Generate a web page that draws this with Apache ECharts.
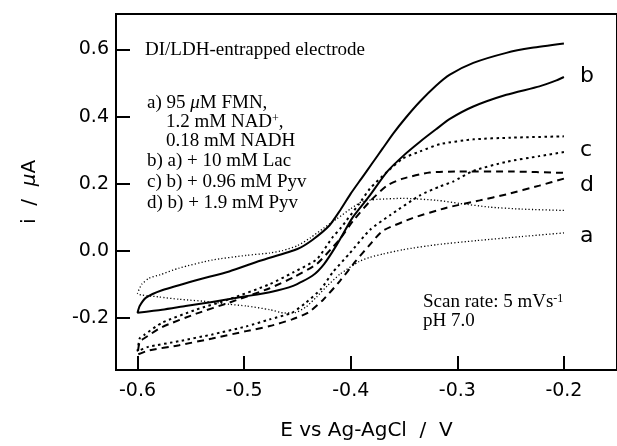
<!DOCTYPE html>
<html><head><meta charset="utf-8">
<script src="https://cdn.jsdelivr.net/npm/echarts@6/dist/echarts.min.js"></script>
<style>html,body{margin:0;padding:0;background:#fff}#c{width:617px;height:446px}</style>
</head><body><div id="c"></div>
<script>
const xTicks = [-0.6, -0.5, -0.4, -0.3, -0.2];
const yTicks = [-0.2, 0.0, 0.2, 0.4, 0.6];

// a) FMN + NAD+/NADH : anodic sweep (-0.6 -> -0.2) and cathodic sweep (-0.2 -> -0.6)
const aForward = [
  [-0.600,-0.128],[-0.596,-0.100],[-0.589,-0.082],[-0.579,-0.072],[-0.561,-0.052],[-0.530,-0.028],
  [-0.498,-0.014],[-0.476,-0.007],[-0.464,0.000],[-0.450,0.015],[-0.438,0.038],[-0.425,0.068],
  [-0.413,0.095],[-0.400,0.125],[-0.389,0.147],[-0.375,0.153],[-0.351,0.156],[-0.319,0.150],
  [-0.298,0.141],[-0.270,0.130],[-0.240,0.124],[-0.200,0.120]
];
const aReverse = [
  [-0.200,0.053],[-0.240,0.042],[-0.282,0.030],[-0.319,0.018],[-0.351,0.003],[-0.370,-0.010],
  [-0.382,-0.020],[-0.392,-0.032],[-0.410,-0.070],[-0.422,-0.105],[-0.432,-0.138],[-0.442,-0.168],
  [-0.452,-0.185],[-0.462,-0.186],[-0.476,-0.176],[-0.498,-0.165],[-0.514,-0.160],[-0.530,-0.153],
  [-0.561,-0.145],[-0.580,-0.138],[-0.600,-0.128]
];
// b) a) + 10 mM Lac
const bForward = [
  [-0.600,-0.185],[-0.598,-0.165],[-0.592,-0.140],[-0.577,-0.118],[-0.545,-0.088],[-0.514,-0.062],
  [-0.485,-0.030],[-0.450,0.005],[-0.436,0.032],[-0.420,0.075],[-0.410,0.120],[-0.400,0.170],
  [-0.390,0.215],[-0.380,0.260],[-0.370,0.305],[-0.360,0.350],[-0.348,0.398],[-0.335,0.445],
  [-0.320,0.492],[-0.307,0.525],[-0.285,0.560],[-0.254,0.590],[-0.230,0.605],[-0.200,0.618]
];
const bReverse = [
  [-0.200,0.518],[-0.207,0.508],[-0.223,0.490],[-0.254,0.465],[-0.285,0.430],[-0.307,0.393],
  [-0.320,0.362],[-0.335,0.325],[-0.350,0.285],[-0.366,0.235],[-0.382,0.165],[-0.398,0.100],
  [-0.413,0.018],[-0.425,-0.040],[-0.436,-0.075],[-0.454,-0.105],[-0.476,-0.124],[-0.500,-0.137],
  [-0.530,-0.153],[-0.555,-0.165],[-0.577,-0.176],[-0.600,-0.185]
];
// c) b) + 0.96 mM Pyv
const cForward = [
  [-0.600,-0.300],[-0.598,-0.262],[-0.594,-0.252],[-0.577,-0.215],[-0.545,-0.176],[-0.514,-0.145],
  [-0.476,-0.100],[-0.454,-0.065],[-0.432,-0.026],[-0.417,0.040],[-0.410,0.065],[-0.404,0.090],
  [-0.392,0.140],[-0.382,0.185],[-0.366,0.235],[-0.351,0.275],[-0.335,0.296],[-0.316,0.318],
  [-0.285,0.332],[-0.250,0.337],[-0.200,0.341]
];
const cReverse = [
  [-0.200,0.294],[-0.223,0.282],[-0.254,0.265],[-0.285,0.238],[-0.304,0.206],[-0.316,0.192],
  [-0.335,0.165],[-0.363,0.106],[-0.382,0.062],[-0.401,-0.008],[-0.417,-0.065],[-0.428,-0.115],
  [-0.442,-0.155],[-0.455,-0.185],[-0.476,-0.205],[-0.498,-0.226],[-0.530,-0.250],[-0.561,-0.270],
  [-0.590,-0.287],[-0.600,-0.300]
];
// d) b) + 1.9 mM Pyv
const dForward = [
  [-0.600,-0.310],[-0.598,-0.272],[-0.594,-0.262],[-0.577,-0.228],[-0.545,-0.188],[-0.514,-0.155],
  [-0.476,-0.112],[-0.454,-0.080],[-0.432,-0.040],[-0.417,0.010],[-0.410,0.035],[-0.398,0.088],
  [-0.382,0.147],[-0.366,0.194],[-0.351,0.215],[-0.326,0.233],[-0.300,0.236],[-0.250,0.236],
  [-0.200,0.232]
];
const dReverse = [
  [-0.200,0.215],[-0.223,0.194],[-0.254,0.168],[-0.279,0.150],[-0.310,0.128],[-0.342,0.097],
  [-0.370,0.059],[-0.382,0.018],[-0.395,-0.030],[-0.410,-0.090],[-0.426,-0.147],[-0.440,-0.185],
  [-0.455,-0.205],[-0.476,-0.225],[-0.498,-0.240],[-0.530,-0.262],[-0.561,-0.282],[-0.590,-0.298],
  [-0.600,-0.310]
];

const SANS = 'DejaVu Sans';
const SERIF = 'Liberation Serif';
const chart = echarts.init(document.getElementById('c'), null, {renderer: 'canvas'});

// join a sweep pair into one trace, turning at -0.6 V (the reverse sweep ends where the forward one starts)
const loop = (fwd, rev) => rev.concat(fwd.slice(1));

function mk(name, data, type, width) {
  return {
    name, type: 'line', data, showSymbol: false, smooth: 0.2, animation: false,
    lineStyle: {color: '#000', width, type}, z: 3, silent: true
  };
}
const serifText = (x, y, text, extra) => ({
  type: 'text', x, y, silent: true,
  style: Object.assign({text, fill: '#000', fontFamily: SERIF, fontSize: 19, verticalAlign: 'middle'}, extra || {})
});
const richSerif = {
  it: {fontFamily: SERIF, fontSize: 19, fontStyle: 'italic', fill: '#000'},
  sup: {fontFamily: SERIF, fontSize: 12, verticalAlign: 'top', fill: '#000'}
};
const curveLabel = (x, y, t) => ({type: 'text', x, y, silent: true,
  style: {text: t, fill: '#000', fontFamily: SANS, fontSize: 22, verticalAlign: 'middle'}});

chart.setOption({
  animation: false,
  backgroundColor: '#fff',
  grid: {left: 116, right: 0, top: 14, bottom: 72, show: true, borderColor: '#000', borderWidth: 2},
  xAxis: {
    type: 'value', min: -0.6202, max: -0.1502,
    axisLine: {show: true, onZero: false, lineStyle: {color: '#000', width: 2}},
    axisTick: {show: true, inside: true, length: 14, customValues: xTicks, lineStyle: {color: '#000', width: 2}},
    axisLabel: {customValues: xTicks, formatter: v => v.toFixed(1), color: '#000', fontFamily: SANS, fontSize: 19, margin: 12},
    splitLine: {show: false},
    name: 'E vs Ag-AgCl  /  V', nameLocation: 'middle', nameGap: 51,
    nameTextStyle: {color: '#000', fontFamily: SANS, fontSize: 20}
  },
  yAxis: {
    type: 'value', min: -0.356, max: 0.706,
    axisLine: {show: true, onZero: false, lineStyle: {color: '#000', width: 2}},
    axisTick: {show: true, inside: true, length: 14, customValues: yTicks, lineStyle: {color: '#000', width: 2}},
    axisLabel: {customValues: yTicks, formatter: v => v.toFixed(1), color: '#000', fontFamily: SANS, fontSize: 19, margin: 7},
    splitLine: {show: false},
    name: 'i  /  {it|μ}A', nameLocation: 'middle', nameGap: 76, nameRotate: 90,
    nameTextStyle: {color: '#000', fontFamily: SANS, fontSize: 20,
      rich: {it: {fontFamily: SANS, fontSize: 20, fontStyle: 'italic', color: '#000'}}}
  },
  series: [
    mk('a', loop(aForward, aReverse), [1.2, 2.2], 1.3),
    mk('b', loop(bForward, bReverse), 'solid', 2),
    mk('c', loop(cForward, cReverse), [2.5, 3.5], 2),
    mk('d', loop(dForward, dReverse), [7, 5], 2)
  ],
  graphic: [
    serifText(145, 50, 'DI/LDH-entrapped electrode'),
    serifText(147, 103, 'a) 95 {it|μ}M FMN,', {rich: richSerif}),
    serifText(166, 122, '1.2 mM NAD{sup|+},', {rich: richSerif}),
    serifText(166, 141, '0.18 mM NADH'),
    serifText(147, 161, 'b) a) + 10 mM Lac'),
    serifText(147, 182, 'c) b) + 0.96 mM Pyv'),
    serifText(147, 203, 'd) b) + 1.9 mM Pyv'),
    serifText(423, 302, 'Scan rate: 5 mVs{sup|-1}', {rich: richSerif}),
    serifText(423, 321, 'pH 7.0'),
    curveLabel(580, 76, 'b'),
    curveLabel(580, 150, 'c'),
    curveLabel(580, 185, 'd'),
    curveLabel(580, 236, 'a')
  ]
});
</script></body></html>
